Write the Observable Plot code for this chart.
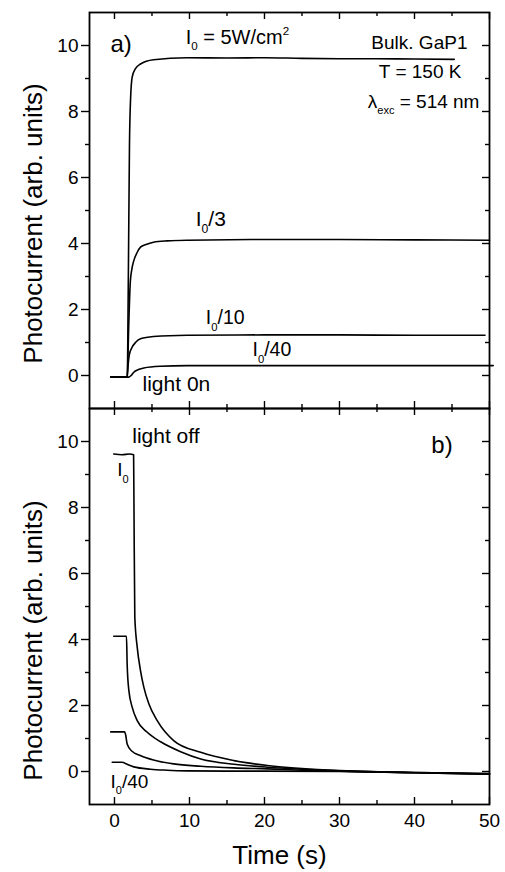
<!DOCTYPE html>
<html><head><meta charset="utf-8">
<script src="https://cdn.jsdelivr.net/npm/d3@7"></script>
<script src="https://cdn.jsdelivr.net/npm/@observablehq/plot@0.6"></script>
<style>
html,body{margin:0;padding:0;background:#fff;}
#chart{width:505px;height:872px;}
</style></head><body><div id="chart"></div>
<script>
// ---------- data: panel a) light on ----------
const aI0_t  = [-0.5, 1.7, 1.85, 2.0, 2.15, 2.36, 2.8, 3.47, 5.2, 9.7, 15, 20, 25, 30, 35, 40, 45.3];
const aI0_v  = [-0.05, -0.05, 3.0, 7.0, 8.4, 9.04, 9.3, 9.44, 9.57, 9.63, 9.62, 9.63, 9.61, 9.6, 9.6, 9.59, 9.58];
const aI03_t = [-0.5, 1.7, 1.9, 2.1, 2.3, 2.58, 3.0, 3.47, 4.2, 5.2, 7, 9.7, 20, 30, 40, 50];
const aI03_v = [-0.05, -0.05, 1.5, 2.8, 3.2, 3.48, 3.72, 3.89, 3.97, 4.04, 4.08, 4.1, 4.12, 4.12, 4.11, 4.1];
const aI010_t = [-0.5, 1.7, 1.85, 2.0, 2.36, 2.8, 3.47, 5.2, 9.7, 20, 30, 40, 49.4];
const aI010_v = [-0.05, -0.05, 0.4, 0.65, 0.86, 1.0, 1.11, 1.18, 1.22, 1.23, 1.23, 1.22, 1.22];
const aI040_t = [-0.5, 1.9, 2.3, 2.58, 3.2, 3.92, 6.1, 9.7, 20, 30, 40, 50.5];
const aI040_v = [-0.05, -0.05, 0.02, 0.1, 0.18, 0.23, 0.28, 0.3, 0.3, 0.3, 0.3, 0.3];

// ---------- data: panel b) light off ----------
const bI0_t  = [-0.1, 1, 2.0, 2.55, 2.6, 2.71, 3.03, 3.47, 3.92, 4.58, 5.7, 7.93, 11.5, 15.95, 20.4, 25, 30, 35, 40, 45, 50];
const bI0_v  = [9.62, 9.6, 9.62, 9.6, 8.0, 4.68, 3.77, 3.06, 2.55, 2.05, 1.54, 0.93, 0.58, 0.33, 0.18, 0.09, 0.03, -0.01, -0.04, -0.06, -0.08];
const bI03_t = [-0.1, 1.6, 1.69, 1.92, 2.36, 3.03, 4.37, 6.15, 8.82, 11.5, 15.95, 20.4, 25, 30, 40, 50];
const bI03_v = [4.1, 4.1, 3.26, 2.45, 1.95, 1.54, 1.19, 0.9, 0.6, 0.38, 0.22, 0.13, 0.07, 0.02, -0.04, -0.08];
const bI010_t = [-0.5, 1.35, 1.5, 1.69, 2.3, 3.5, 5.2, 7.9, 11.5, 15.9, 20.4, 25, 30, 40, 50];
const bI010_v = [1.2, 1.2, 1.1, 0.83, 0.62, 0.48, 0.35, 0.23, 0.16, 0.11, 0.08, 0.04, 0.01, -0.03, -0.07];
const bI040_t = [-0.3, 1.0, 1.69, 2.58, 4.8, 7, 9.7, 15, 20, 30, 40, 50];
const bI040_v = [0.28, 0.28, 0.22, 0.14, 0.07, 0.04, 0.02, 0.01, 0.01, 0, -0.03, -0.06];

// ---------- ticks ----------
const xMajor = [0, 10, 20, 30, 40, 50];
const xMinor = [5, 15, 25, 35, 45];
const yMajor = [0, 2, 4, 6, 8, 10];
const yMinor = [1, 3, 5, 7, 9];

// ---------- annotations (data coordinates) ----------
const labelsStart = [
  {panel: "a", text: "a)", t: -0.53, v: 9.79, size: 24},
  {panel: "a", text: "I_0 = 5W/cm^2", t: 9.49, v: 10.06, size: 20},
  {panel: "a", text: "I_0/3", t: 10.83, v: 4.52, size: 21},
  {panel: "a", text: "I_0/10", t: 12.17, v: 1.55, size: 19.5},
  {panel: "a", text: "I_0/40", t: 18.4, v: 0.58, size: 19.5},
  {panel: "a", text: "light 0n", t: 3.74, v: -0.48, size: 21},
  {panel: "b", text: "light off", t: 2.37, v: 9.95, size: 21},
  {panel: "b", text: "b)", t: 42.25, v: 9.66, size: 24},
  {panel: "b", text: "I_0", t: 0.36, v: 8.94, size: 19},
  {panel: "b", text: "I_0/40", t: -0.53, v: -0.49, size: 19}
];
const labelsEnd = [
  {panel: "a", text: "Bulk. GaP1", t: 47.06, v: 9.88, size: 19},
  {panel: "a", text: "T = 150 K", t: 46.26, v: 9.03, size: 19},
  {panel: "a", text: "λ_{exc} = 514 nm", t: 48.66, v: 8.12, size: 19}
];

function series(panel, name, ts, vs) {
  return ts.map((t, i) => ({panel, series: panel + name, t, v: vs[i]}));
}
const rows = [
  ...series("a", "I0", aI0_t, aI0_v),
  ...series("a", "I0/3", aI03_t, aI03_v),
  ...series("a", "I0/10", aI010_t, aI010_v),
  ...series("a", "I0/40", aI040_t, aI040_v),
  ...series("b", "I0", bI0_t, bI0_v),
  ...series("b", "I0/3", bI03_t, bI03_v),
  ...series("b", "I0/10", bI010_t, bI010_v),
  ...series("b", "I0/40", bI040_t, bI040_v)
];

const W = 505, H = 872, ML = 89, MR = 16, MT = 12, MB = 68;
const FH = (H - MT - MB) / 2, FW = W - ML - MR;

const chart = Plot.plot({
  width: W, height: H,
  marginTop: MT, marginBottom: MB, marginLeft: ML, marginRight: MR,
  x: {domain: [-3.33, 50]},
  y: {domain: [-1, 11]},
  fy: {domain: ["a", "b"], padding: 0, axis: null},
  style: {fontFamily: "'Liberation Sans', Arial, sans-serif", background: "white", color: "black", overflow: "visible"},
  marks: [
    Plot.ruleX(xMajor, {x: d => d, insetBottom: FH - 7, strokeWidth: 1.4}),
    Plot.ruleX(xMajor, {x: d => d, insetTop: FH - 7, strokeWidth: 1.4}),
    Plot.ruleX(xMinor, {x: d => d, insetBottom: FH - 4, strokeWidth: 1.4}),
    Plot.ruleX(xMinor, {x: d => d, insetTop: FH - 4, strokeWidth: 1.4}),
    Plot.ruleY(yMajor, {y: d => d, insetLeft: FW - 7, strokeWidth: 1.4}),
    Plot.ruleY(yMinor, {y: d => d, insetLeft: FW - 4, strokeWidth: 1.4}),
    Plot.axisY({ticks: yMajor, tickSize: 8, tickPadding: 3, fontSize: 19, label: null, strokeWidth: 1.4}),
    Plot.axisY({ticks: yMinor, tickSize: 4, tickFormat: () => "", label: null, strokeWidth: 1.4}),
    Plot.axisX({ticks: xMajor, tickSize: 0, tickPadding: 9, fontSize: 19, label: null}),
    Plot.frame({stroke: "black", strokeWidth: 1.8}),
    Plot.line(rows, {x: "t", y: "v", z: "series", fy: "panel", stroke: "black", strokeWidth: 1.6, curve: "monotone-x"}),
    Plot.text(labelsStart, {x: "t", y: "v", fy: "panel", text: "text", fontSize: "size", textAnchor: "start", lineAnchor: "bottom", fill: "black"}),
    Plot.text(labelsEnd, {x: "t", y: "v", fy: "panel", text: "text", fontSize: "size", textAnchor: "end", lineAnchor: "bottom", fill: "black"}),
    Plot.text([{panel: "a", s: "Photocurrent (arb. units)"}], {fy: "panel", text: "s", frameAnchor: "left", textAnchor: "middle", lineAnchor: "middle", rotate: -90, dx: -56, dy: 13, fontSize: 26, fill: "black"}),
    Plot.text([{panel: "b", s: "Photocurrent (arb. units)"}], {fy: "panel", text: "s", frameAnchor: "left", textAnchor: "middle", lineAnchor: "middle", rotate: -90, dx: -56, dy: 34, fontSize: 26, fill: "black"}),
    Plot.text([{panel: "b", s: "Time (s)"}], {fy: "panel", text: "s", frameAnchor: "bottom", textAnchor: "middle", lineAnchor: "bottom", dx: -10, dy: 59, fontSize: 26, fill: "black"})
  ]
});
document.getElementById("chart").appendChild(chart);

// sub/superscript markup -> tspans
const NS = "http://www.w3.org/2000/svg";
chart.querySelectorAll("text").forEach(el => {
  const s = el.textContent;
  if (el.children.length || !/[_^]/.test(s)) return;
  const fs = parseFloat(getComputedStyle(el).fontSize) || 19;
  const parts = s.split(/([_^](?:\{[^}]*\}|.))/);
  el.textContent = "";
  let shift = 0;
  parts.forEach(p => {
    if (!p) return;
    const ts = document.createElementNS(NS, "tspan");
    let target = 0, txt = p, small = false;
    if (p[0] === "_" || p[0] === "^") {
      small = true;
      txt = p.slice(1).replace(/[{}]/g, "");
      target = p[0] === "_" ? 0.32 * fs : -0.45 * fs;
    }
    if (target - shift !== 0) ts.setAttribute("dy", target - shift);
    shift = target;
    if (small) ts.setAttribute("font-size", 0.58 * fs);
    ts.textContent = txt;
    el.appendChild(ts);
  });
});
</script>
</body></html>
